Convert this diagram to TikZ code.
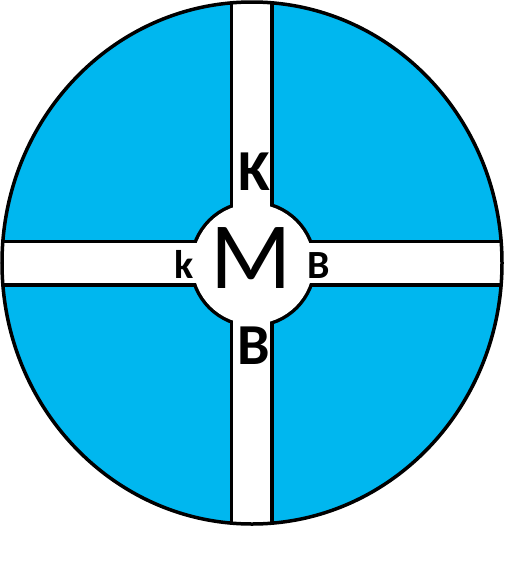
\documentclass[tikz,border=0pt]{standalone}
\usepackage{fontspec}
\setmainfont{Carlito}
\usepackage{xcolor}
\definecolor{discblue}{RGB}{0,183,239}

\begin{document}
\begin{tikzpicture}[x=1pt,y=-1pt,line width=3.5pt,
  big/.style={font=\fontsize{58}{60}\selectfont\bfseries,inner sep=0pt},
  small/.style={font=\fontsize{40}{44}\selectfont\bfseries,inner sep=0pt}]
\useasboundingbox (0,0) rectangle (528,568);
\fill[discblue] (252,263) ellipse [x radius=250, y radius=261];
\begin{scope}
\clip (252,263) ellipse [x radius=250, y radius=261];
% outlines first, then white fill hides the inner half
\draw[line width=7pt] (233,-10) rectangle (270,540);
\draw[line width=7pt] (-10,243) rectangle (515,283);
\draw[line width=7pt] (253,264) circle [radius=60];
\fill[white] (233,-10) rectangle (270,540);
\fill[white] (-10,243) rectangle (515,283);
\fill[white] (253,264) circle [radius=60];
\end{scope}
\draw (252,263) ellipse [x radius=250, y radius=261];
\node[inner sep=0pt,font=\fontsize{95}{98}\selectfont] (M) at (251,258) {M};
\node[big] (K) at (254,172) {K};
\node[big] (B) at (254,346) {B};
\node[small] (k) at (184,264) {k};
\node[small] (b) at (319,266) {B};
\end{tikzpicture}
\end{document}
